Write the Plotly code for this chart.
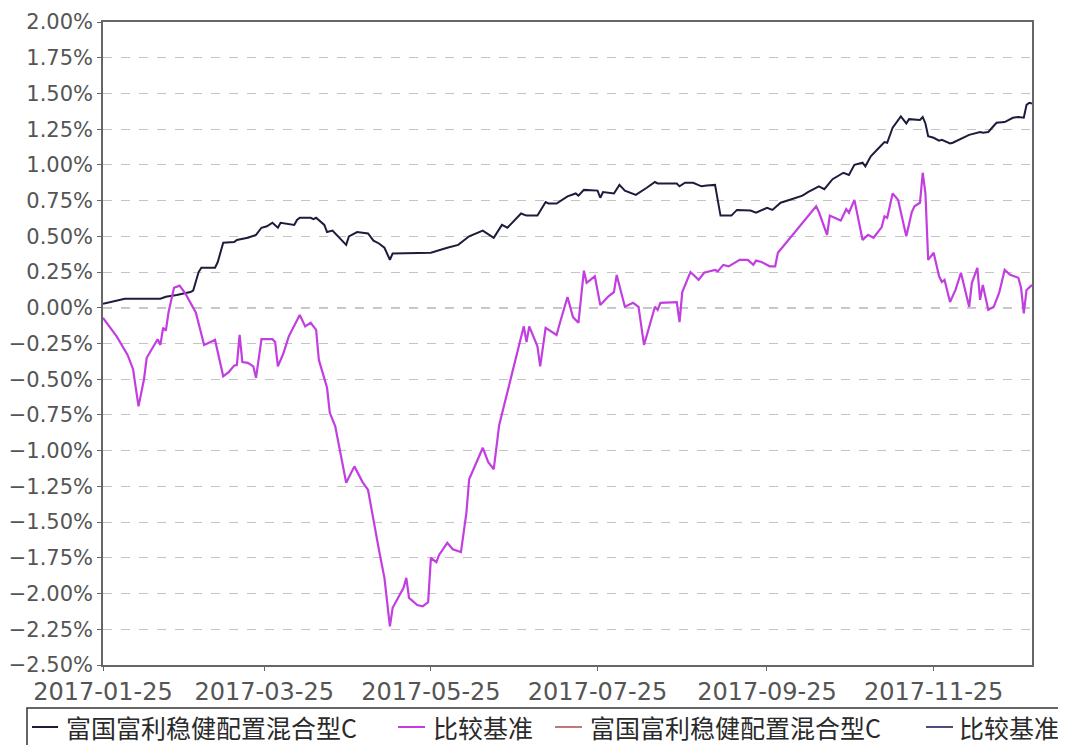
import plotly.graph_objects as go

# ---------------- data (values in %) ----------------
fund_name = "富国富利稳健配置混合型C"
bench_name = "比较基准"

fund_dates = [
    "2017-01-25", "2017-02-02", "2017-02-15", "2017-02-17", "2017-02-21", "2017-02-26", "2017-02-27",
    "2017-03-01", "2017-03-02", "2017-03-07", "2017-03-08", "2017-03-10", "2017-03-14", "2017-03-15",
    "2017-03-19", "2017-03-22", "2017-03-24", "2017-03-26", "2017-03-28", "2017-03-30", "2017-03-31",
    "2017-04-02", "2017-04-05", "2017-04-06", "2017-04-07", "2017-04-11", "2017-04-12", "2017-04-13",
    "2017-04-16", "2017-04-17", "2017-04-19", "2017-04-24", "2017-04-25", "2017-04-28", "2017-05-02",
    "2017-05-04", "2017-05-06", "2017-05-08", "2017-05-10", "2017-05-11", "2017-05-22", "2017-05-25",
    "2017-05-31", "2017-06-04", "2017-06-08", "2017-06-13", "2017-06-17", "2017-06-20", "2017-06-22",
    "2017-06-27", "2017-06-29", "2017-07-03", "2017-07-06", "2017-07-07", "2017-07-10", "2017-07-14",
    "2017-07-17", "2017-07-18", "2017-07-20", "2017-07-24", "2017-07-25", "2017-07-26", "2017-07-27",
    "2017-07-31", "2017-08-02", "2017-08-04", "2017-08-08", "2017-08-12", "2017-08-15", "2017-08-16",
    "2017-08-23", "2017-08-24", "2017-08-26", "2017-08-29", "2017-09-01", "2017-09-03", "2017-09-06",
    "2017-09-08", "2017-09-12", "2017-09-14", "2017-09-19", "2017-09-21", "2017-09-25", "2017-09-27",
    "2017-09-30", "2017-10-04", "2017-10-08", "2017-10-10", "2017-10-14", "2017-10-16", "2017-10-19",
    "2017-10-23", "2017-10-25", "2017-10-27", "2017-10-30", "2017-10-31", "2017-11-02", "2017-11-05",
    "2017-11-07", "2017-11-08", "2017-11-10", "2017-11-13", "2017-11-15", "2017-11-16", "2017-11-20",
    "2017-11-21", "2017-11-22", "2017-11-23", "2017-11-25", "2017-11-27", "2017-11-28", "2017-12-01",
    "2017-12-02", "2017-12-08", "2017-12-12", "2017-12-13", "2017-12-15", "2017-12-18", "2017-12-21",
    "2017-12-24", "2017-12-26", "2017-12-28", "2017-12-29", "2017-12-30", "2017-12-31",
]
fund_values = [
    0.028, 0.063, 0.063, 0.077, 0.09, 0.11, 0.12,
    0.25, 0.28, 0.28, 0.32, 0.455, 0.46, 0.475,
    0.49, 0.51, 0.56, 0.57, 0.595, 0.56, 0.595,
    0.59, 0.58, 0.615, 0.63, 0.63, 0.62, 0.63,
    0.58, 0.53, 0.54, 0.44, 0.50, 0.53, 0.52,
    0.47, 0.45, 0.42, 0.336, 0.38, 0.38, 0.385,
    0.42, 0.44, 0.50, 0.54, 0.49, 0.58, 0.56,
    0.66, 0.645, 0.645, 0.74, 0.73, 0.73, 0.78,
    0.80, 0.785, 0.825, 0.825, 0.82, 0.77, 0.81,
    0.80, 0.86, 0.82, 0.79, 0.84, 0.88, 0.87,
    0.87, 0.85, 0.875, 0.875, 0.85, 0.855, 0.86,
    0.645, 0.645, 0.685, 0.68, 0.665, 0.70, 0.685,
    0.735, 0.76, 0.785, 0.81, 0.85, 0.83, 0.90,
    0.945, 0.93, 1.00, 1.015, 0.99, 1.06, 1.12,
    1.16, 1.155, 1.26, 1.34, 1.29, 1.32, 1.315,
    1.335, 1.29, 1.20, 1.19, 1.17, 1.175, 1.15,
    1.155, 1.21, 1.23, 1.225, 1.23, 1.295, 1.30,
    1.33, 1.335, 1.33, 1.42, 1.435, 1.43,
]

bench_dates = [
    "2017-01-25", "2017-01-30", "2017-02-03", "2017-02-05", "2017-02-07", "2017-02-09", "2017-02-10",
    "2017-02-13", "2017-02-14", "2017-02-15", "2017-02-16", "2017-02-17", "2017-02-18", "2017-02-20",
    "2017-02-22", "2017-02-24", "2017-02-27", "2017-02-28", "2017-03-03", "2017-03-05", "2017-03-07",
    "2017-03-10", "2017-03-12", "2017-03-14", "2017-03-15", "2017-03-16", "2017-03-17", "2017-03-19",
    "2017-03-21", "2017-03-22", "2017-03-24", "2017-03-28", "2017-03-29", "2017-03-30", "2017-04-01",
    "2017-04-03", "2017-04-07", "2017-04-09", "2017-04-11", "2017-04-13", "2017-04-14", "2017-04-17",
    "2017-04-18", "2017-04-20", "2017-04-21", "2017-04-24", "2017-04-27", "2017-04-30", "2017-05-02",
    "2017-05-04", "2017-05-06", "2017-05-08", "2017-05-10", "2017-05-11", "2017-05-13", "2017-05-15",
    "2017-05-16", "2017-05-17", "2017-05-20", "2017-05-22", "2017-05-24", "2017-05-25", "2017-05-27",
    "2017-05-28", "2017-05-31", "2017-06-02", "2017-06-05", "2017-06-07", "2017-06-08", "2017-06-13",
    "2017-06-15", "2017-06-17", "2017-06-19", "2017-06-21", "2017-06-23", "2017-06-28", "2017-06-29",
    "2017-06-30", "2017-07-03", "2017-07-04", "2017-07-06", "2017-07-10", "2017-07-11", "2017-07-14",
    "2017-07-16", "2017-07-18", "2017-07-20", "2017-07-21", "2017-07-24", "2017-07-26", "2017-07-29",
    "2017-07-31", "2017-08-01", "2017-08-04", "2017-08-07", "2017-08-09", "2017-08-11", "2017-08-15",
    "2017-08-16", "2017-08-17", "2017-08-23", "2017-08-24", "2017-08-25", "2017-08-28", "2017-08-31",
    "2017-09-02", "2017-09-06", "2017-09-07", "2017-09-09", "2017-09-11", "2017-09-15", "2017-09-18",
    "2017-09-20", "2017-09-21", "2017-09-23", "2017-09-26", "2017-09-28", "2017-09-29", "2017-10-13",
    "2017-10-14", "2017-10-17", "2017-10-18", "2017-10-22", "2017-10-24", "2017-10-25", "2017-10-27",
    "2017-10-30", "2017-11-01", "2017-11-03", "2017-11-06", "2017-11-07", "2017-11-08", "2017-11-10",
    "2017-11-12", "2017-11-15", "2017-11-17", "2017-11-18", "2017-11-20", "2017-11-21", "2017-11-22",
    "2017-11-23", "2017-11-25", "2017-11-27", "2017-11-28", "2017-11-29", "2017-12-01", "2017-12-03",
    "2017-12-05", "2017-12-08", "2017-12-09", "2017-12-11", "2017-12-12", "2017-12-13", "2017-12-15",
    "2017-12-17", "2017-12-19", "2017-12-21", "2017-12-23", "2017-12-26", "2017-12-27", "2017-12-28",
    "2017-12-29", "2017-12-31",
]
bench_values = [
    -0.07, -0.20, -0.33, -0.43, -0.69, -0.50, -0.35,
    -0.245, -0.22, -0.26, -0.14, -0.16, -0.03, 0.14,
    0.155, 0.105, 0.0, -0.035, -0.26, -0.24, -0.225,
    -0.48, -0.45, -0.405, -0.40, -0.19, -0.38, -0.385,
    -0.41, -0.49, -0.22, -0.22, -0.24, -0.41, -0.32,
    -0.20, -0.05, -0.13, -0.105, -0.155, -0.365, -0.56,
    -0.735, -0.83, -0.925, -1.225, -1.11, -1.22, -1.275,
    -1.50, -1.695, -1.89, -2.23, -2.10, -2.03, -1.96,
    -1.89, -2.03, -2.08, -2.09, -2.06, -1.75, -1.78,
    -1.73, -1.645, -1.69, -1.71, -1.435, -1.20, -0.98,
    -1.08, -1.13, -0.82, -0.665, -0.50, -0.13, -0.24,
    -0.13, -0.27, -0.41, -0.14, -0.19, -0.12, 0.075,
    -0.065, -0.105, 0.26, 0.175, 0.22, 0.02, 0.08,
    0.11, 0.23, 0.007, 0.035, 0.007, -0.26, 0.007,
    -0.015, 0.035, 0.04, -0.10, 0.11, 0.25, 0.195,
    0.245, 0.265, 0.255, 0.30, 0.29, 0.335, 0.335,
    0.30, 0.33, 0.32, 0.29, 0.29, 0.385, 0.71,
    0.67, 0.51, 0.645, 0.61, 0.69, 0.665, 0.755,
    0.475, 0.51, 0.49, 0.565, 0.64, 0.63, 0.80,
    0.755, 0.50, 0.67, 0.71, 0.735, 0.945, 0.80,
    0.335, 0.385, 0.22, 0.18, 0.195, 0.04, 0.125,
    0.245, 0.007, 0.175, 0.28, 0.055, 0.16, -0.015,
    0.007, 0.105, 0.265, 0.23, 0.21, 0.14, -0.04,
    0.125, 0.16,
]

x_tick_dates = ["2017-01-25", "2017-03-25", "2017-05-25", "2017-07-25", "2017-09-25", "2017-11-25"]
x_tick_labels = ["2017-01-25", "2017-03-25", "2017-05-25", "2017-07-25", "2017-09-25", "2017-11-25"]

legend_names = [fund_name, bench_name, fund_name, bench_name]
legend_colors = ["#1c1c3c", "#c23ee0", "#c07878", "#4c4c7c"]

# ---------------- figure ----------------
# The page body has an 8px default margin, so the figure is drawn 8px smaller
# and the margins are reduced by the same amount to keep the plot area in place.
OFF = 8
W, H = 1066 - OFF, 745 - OFF
ML, MT = 103 - OFF, 22 - OFF
PW, PH = 929, 643
MR, MB = W - ML - PW, H - MT - PH


def px_x(p):  # page pixel -> paper x
    return (p - OFF - ML) / PW


def px_y(p):  # page pixel -> paper y
    return (MT + PH - (p - OFF)) / PH


fig = go.Figure()
fig.add_trace(go.Scatter(x=fund_dates, y=fund_values, mode="lines", name=fund_name,
                         line=dict(color=legend_colors[0], width=2)))
fig.add_trace(go.Scatter(x=bench_dates, y=bench_values, mode="lines", name=bench_name,
                         line=dict(color=legend_colors[1], width=2.2)))

shapes = []
# zero line, dashed
shapes.append(dict(type="line", xref="paper", yref="y", x0=0, x1=1, y0=0, y1=0,
                   line=dict(color="#3c3c6a", width=1, dash="dash"), layer="below"))
# legend box
shapes.append(dict(type="rect", xref="paper", yref="paper",
                   x0=px_x(27), x1=px_x(1090), y0=px_y(708), y1=px_y(780),
                   line=dict(color="#333333", width=1.5), fillcolor="rgba(0,0,0,0)"))

annotations = []
dash_x = [(32, 58), (398, 425), (555, 582), (926, 953)]
text_x = [64, 431, 588, 957]
for (a, b), tx, name, col in zip(dash_x, text_x, legend_names, legend_colors):
    shapes.append(dict(type="line", xref="paper", yref="paper",
                       x0=px_x(a), x1=px_x(b), y0=px_y(727), y1=px_y(727),
                       line=dict(color=col, width=2)))
    annotations.append(dict(xref="paper", yref="paper", x=px_x(tx), y=px_y(727),
                            xanchor="left", yanchor="middle", showarrow=False,
                            text=name, font=dict(family="Noto Sans CJK SC", size=25, color="#2a2a2a")))

fig.update_layout(
    width=W, height=H,
    margin=dict(l=ML, r=MR, t=MT, b=MB, pad=0, autoexpand=False),
    paper_bgcolor="white", plot_bgcolor="white",
    showlegend=False,
    shapes=shapes,
    annotations=annotations,
    font=dict(family="DejaVu Sans", color="#555555"),
)

fig.update_xaxes(
    type="date", range=["2017-01-25", "2017-12-31"],
    tickvals=x_tick_dates, ticktext=x_tick_labels,
    showgrid=False, zeroline=False, automargin=False,
    showline=True, linecolor="#666666", linewidth=1.5, mirror=True,
    ticks="outside", ticklen=4, tickcolor="#666666",
    tickfont=dict(family="DejaVu Sans", size=24, color="#555555"),
)
fig.update_yaxes(
    range=[-2.5, 2.0], tick0=0, dtick=0.25, tickformat=".2f", ticksuffix="%",
    showgrid=True, gridcolor="#c4c4c4", griddash="dash", gridwidth=1,
    zeroline=False, automargin=False,
    showline=True, linecolor="#666666", linewidth=1.5, mirror=True,
    ticks="outside", ticklen=4, tickcolor="#666666",
    tickfont=dict(family="DejaVu Sans", size=21, color="#555555"),
)

fig.write_html("out.html")
